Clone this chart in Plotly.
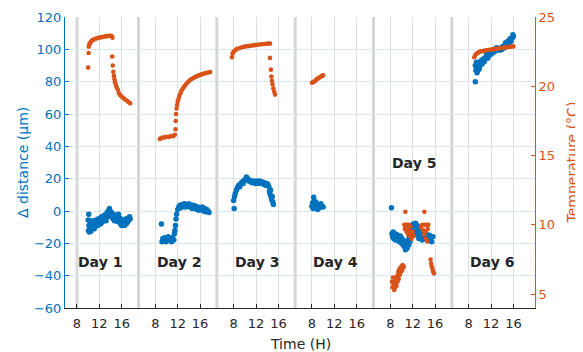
import plotly.graph_objects as go

# ---------------- data (hour of day, value) ----------------
day_labels = ["Day 1", "Day 2", "Day 3", "Day 4", "Day 5", "Day 6"]
tick_hours = [8, 12, 16]

# Day 1
d1_dist_h = [10.0, 10.05, 10.1, 10.15, 10.2, 10.3, 10.35, 10.45, 10.5, 10.6, 10.7, 10.8, 10.9, 11.0, 11.1, 11.2, 11.3, 11.4,
             11.5, 11.6, 11.7, 11.8, 11.9, 12.0, 12.1, 12.2, 12.3, 12.4, 12.5, 12.6, 12.7, 12.8, 12.9, 13.0, 13.1, 13.2,
             13.3, 13.4, 13.5, 13.6, 13.7, 13.8, 13.9, 14.0, 14.1, 14.2, 14.3, 14.4, 14.5, 14.6, 14.7, 14.8, 14.9, 15.0,
             15.1, 15.2, 15.3, 15.4, 15.5, 15.6, 15.7, 15.8, 15.9, 16.0, 16.1, 16.2, 16.3, 16.4, 16.5, 16.6, 16.7, 16.8,
             16.9, 17.0, 17.1, 17.2, 17.3, 17.4, 17.5]
d1_dist = [-5.5, -12, -2, -9, -13, -6, -11, -8, -12.5, -10, -7, -9.5, -6, -8.5, -11, -7, -9, -5.5,
           -7.5, -6.5, -9, -5, -7, -6, -4.5, -8, -5.5, -3.5, -7, -4.5, -6, -3, -5, -2.5, -4, -6,
           -3, -1, -3.5, 0, -2, 1.5, 0, -1.5, -3, -1, -4, -2.5, -5, -3.5, -6, -4.5, -2.5, -5,
           -3.5, -6.5, -4, -2, -5.5, -7, -4.5, -8, -6, -9, -7, -5.5, -8.5, -6.5, -9, -7.5, -5, -8,
           -6, -7, -4.5, -6, -5, -3.5, -5]
d1_temp_h = [10.0, 10.1, 10.1, 10.2, 10.3, 10.45, 10.6, 10.8, 11.0, 11.3, 11.6, 11.9, 12.2, 12.5, 12.8, 13.1, 13.4,
             13.7, 14.0, 14.2, 14.35, 14.3, 14.4, 14.5, 14.6, 14.7, 14.8, 14.95, 15.1, 15.3, 15.5, 15.75, 16.0,
             16.3, 16.6, 16.9, 17.2, 17.5]
d1_temp = [21.35, 22.4, 22.85, 23.0, 23.1, 23.2, 23.27, 23.33, 23.38, 23.43, 23.47, 23.5, 23.53, 23.55, 23.58, 23.6,
           23.62, 23.64, 23.65, 23.63, 23.5, 22.15, 21.5, 21.05, 20.75, 20.5, 20.3, 20.1, 19.93, 19.75, 19.5, 19.35,
           19.25, 19.15, 19.05, 18.97, 18.87, 18.77]

# Day 2
d2_dist_h = [9.1, 9.2, 9.35, 9.5, 9.7, 9.9, 10.1, 10.3, 10.5, 10.7, 10.9, 11.1, 11.3, 11.4, 11.5, 11.6, 11.7, 11.8,
             12.0, 12.2, 12.4, 12.6, 12.8, 13.0, 13.2, 13.4, 13.6, 13.8, 14.0, 14.2, 14.4, 14.6, 14.8, 15.0, 15.2,
             15.4, 15.6, 15.8, 16.0, 16.2, 16.4, 16.6, 16.8, 17.0, 17.2, 17.4, 17.6]
d2_dist = [-8, -19, -17, -18.5, -16.5, -19, -17.5, -16, -18, -17, -19, -16.5, -18, -14, -12, -9, -5, -2,
           1, 2.5, 3.5, 2, 4, 3, 4.5, 2.5, 4, 3, 4.5, 2.5, 3.5, 1.5, 3.5, 2, 3,
           1, 2.5, 0.5, 2, 1, 2.5, 0, 1.5, -0.5, 1, 0, -1]
d2_temp_h = [8.8, 9.0, 9.3, 9.6, 10.0, 10.4, 10.8, 11.2, 11.5, 11.6, 11.65, 11.7, 11.8, 11.9, 12.0, 12.15, 12.3, 12.5,
             12.7, 12.95, 13.2, 13.45, 13.7, 13.95, 14.2, 14.5, 14.8, 15.1, 15.4, 15.7, 16.0, 16.3, 16.6, 16.9,
             17.2, 17.5, 17.8]
d2_temp = [16.2, 16.25, 16.3, 16.3, 16.35, 16.35, 16.4, 16.4, 16.5, 16.9, 17.5, 18.0, 18.4, 18.65, 18.9, 19.1, 19.3,
           19.5, 19.7, 19.85, 20.0, 20.13, 20.25, 20.35, 20.45, 20.53, 20.6, 20.66, 20.72, 20.77, 20.82, 20.86,
           20.9, 20.94, 20.97, 21.0, 21.03]

# Day 3
d3_dist_h = [8.0, 8.1, 8.15, 8.3, 8.5, 8.7, 8.9, 9.1, 9.3, 9.5, 9.7, 9.9, 10.1, 10.3, 10.5, 10.7, 10.9, 11.1, 11.3,
             11.5, 11.7, 11.9, 12.1, 12.3, 12.5, 12.7, 12.9, 13.1, 13.3, 13.5, 13.7, 13.9, 14.1, 14.3, 14.4, 14.5,
             14.6, 14.7, 14.8, 14.9, 15.0, 15.1]
d3_dist = [6.5, 1.5, 9, 11, 13, 14.5, 16, 15, 17, 18, 17, 19, 19.5, 21, 20, 18.5, 19, 18, 17.5,
           18.5, 18, 17, 18.5, 18, 17, 18.5, 17.5, 18, 16.5, 17.5, 16, 17, 16.5, 15, 12, 10.5,
           13, 8.5, 7, 9, 5.5, 4]
d3_temp_h = [7.7, 7.8, 8.0, 8.3, 8.6, 9.0, 9.4, 9.8, 10.2, 10.6, 11.0, 11.4, 11.8, 12.2, 12.6, 13.0, 13.4, 13.8,
             14.2, 14.5, 14.5, 14.65, 14.75, 14.85, 14.95, 15.1, 15.25, 15.4]
d3_temp = [22.1, 22.35, 22.5, 22.6, 22.7, 22.75, 22.8, 22.85, 22.88, 22.9, 22.92, 22.95, 22.97, 23.0, 23.02, 23.03,
           23.05, 23.07, 23.08, 23.08, 22.05, 21.2, 20.7, 20.4, 20.15, 19.85, 19.6, 19.4]

# Day 4
d4_dist_h = [8.0, 8.1, 8.2, 8.3, 8.35, 8.4, 8.5, 8.6, 8.7, 8.9, 9.0, 9.2, 9.4, 9.6, 9.8, 10.0]
d4_dist = [3, 5, 1.5, 8.5, 6, 3.5, 4, 2, 5.5, 3, 1, 4, 2, 4.5, 3, 2.5]
d4_temp_h = [8.0, 8.2, 8.4, 8.6, 8.8, 9.0, 9.2, 9.4, 9.6, 9.8, 10.0]
d4_temp = [20.25, 20.3, 20.35, 20.4, 20.5, 20.55, 20.6, 20.65, 20.7, 20.75, 20.8]

# Day 5
d5_dist_h = [8.2, 8.3, 8.4, 8.5, 8.6, 8.7, 8.8, 8.9, 9.0, 9.1, 9.2, 9.3, 9.4, 9.5, 9.6, 9.7, 9.8, 9.9, 10.0,
             10.1, 10.2, 10.3, 10.4, 10.5, 10.6, 10.7, 10.8, 10.9, 11.0, 11.1, 11.2, 11.3, 11.4, 11.5, 11.6, 11.7,
             11.8, 11.9, 12.0, 12.1, 12.2, 12.3, 12.4, 12.5, 12.6, 12.7, 12.8, 12.9, 13.0, 13.1, 13.2, 13.3, 13.4,
             13.5, 13.6, 13.7, 13.8, 13.9, 14.0, 14.2, 14.4, 14.6, 14.8, 15.0, 15.2, 15.4, 15.6]
d5_dist = [2, -14, -16, -13, -17, -15, -14, -18, -16, -14.5, -17, -15, -18, -16, -19, -17, -15.5, -18, -20,
           -17, -19, -21, -18.5, -22, -20, -24, -21, -19, -23, -20, -18, -21, -16, -19, -14, -12,
           -15, -10, -13, -8, -11, -9, -12, -7.5, -10, -13, -9, -15, -11, -17, -14, -12, -16,
           -13, -15, -18, -14, -16, -13, -17, -14, -16, -18, -15, -17, -19, -16]
d5_temp_h = [8.3, 8.4, 8.5, 8.6, 8.7, 8.8, 8.9, 9.0, 9.1, 9.2, 9.3, 9.4, 9.5, 9.6, 9.7, 9.8, 9.9, 10.0, 10.1, 10.2,
             10.3, 10.4, 10.7, 10.5, 10.6, 10.8, 10.9, 11.0, 11.1, 11.2, 11.3, 11.4, 11.5, 11.6, 11.7, 11.8, 12.0,
             12.2, 13.5, 13.7, 13.9, 14.1, 14.0, 14.2, 14.3, 14.4, 14.5, 14.6, 14.7, 14.8, 15.2, 15.3, 15.4, 15.5,
             15.6, 15.7, 15.8]
d5_temp = [5.9, 5.5, 6.2, 5.7, 5.3, 5.8, 5.5, 6.0, 5.6, 6.3, 5.9, 6.6, 6.1, 6.8, 6.4, 6.9, 6.6, 7.0, 6.7, 7.1,
           6.9, 7.0, 10.95, 10.0, 9.7, 10.0, 9.5, 10.0, 9.8, 9.3, 10.0, 9.6, 9.2, 9.9, 9.4, 9.0, 9.5,
           9.2, 9.8, 10.0, 9.6, 10.95, 9.3, 10.0, 9.5, 9.0, 10.0, 8.8, 9.7, 10.0, 7.5, 7.2, 7.0, 6.9,
           6.7, 6.6, 6.5]

# Day 6
d6_dist_h = [9.2, 9.2, 9.3, 9.4, 9.5, 9.6, 9.7, 9.8, 9.9, 10.0, 10.2, 10.4, 10.6, 10.8, 11.0, 11.2, 11.4, 11.6, 11.8,
             12.0, 12.2, 12.4, 12.6, 12.8, 13.0, 13.2, 13.4, 13.6, 13.8, 14.0, 14.2, 14.4, 14.6, 14.8, 15.0, 15.2,
             15.4, 15.6, 15.8, 15.9, 16.0]
d6_dist = [80, 90, 87, 92, 85.5, 89, 87, 91, 88, 90, 93, 91, 94, 92.5, 95, 97, 94.5, 96, 98,
           97, 99, 98, 100, 99, 101, 100, 100.5, 99.5, 101, 100, 102, 101, 104, 103, 105, 104,
           106.5, 105, 107, 109, 108]
d6_temp_h = [9.0, 9.2, 9.4, 9.6, 9.8, 10.0, 10.3, 10.6, 10.9, 11.2, 11.5, 11.8, 12.1, 12.4, 12.7, 13.0, 13.3, 13.6,
             13.9, 14.2, 14.5, 14.8, 15.1, 15.4, 15.7, 16.0]
d6_temp = [22.1, 22.25, 22.35, 22.4, 22.45, 22.5, 22.52, 22.55, 22.58, 22.6, 22.62, 22.64, 22.66, 22.68, 22.7, 22.71,
           22.73, 22.75, 22.76, 22.78, 22.8, 22.82, 22.84, 22.85, 22.87, 22.88]

# ---------------- layout constants ----------------
PANEL_HOURS = 14          # width of each day panel on the time axis
PANEL_START = 5           # hour at left edge of a panel
BLUE = "#0072BD"
ORANGE = "#D95319"
DARK = "#262626"
FONT = "DejaVu Sans"

dist_h = [d1_dist_h, d2_dist_h, d3_dist_h, d4_dist_h, d5_dist_h, d6_dist_h]
dist_v = [d1_dist, d2_dist, d3_dist, d4_dist, d5_dist, d6_dist]
temp_h = [d1_temp_h, d2_temp_h, d3_temp_h, d4_temp_h, d5_temp_h, d6_temp_h]
temp_v = [d1_temp, d2_temp, d3_temp, d4_temp, d5_temp, d6_temp]

def to_x(day_idx, hours):
    return [h + PANEL_HOURS * day_idx for h in hours]

bx, by, ox, oy = [], [], [], []
for i in range(len(day_labels)):
    bx += to_x(i, dist_h[i]); by += dist_v[i]
    ox += to_x(i, temp_h[i]); oy += temp_v[i]

fig = go.Figure()
fig.add_trace(go.Scatter(x=bx, y=by, mode="markers", yaxis="y",
                         marker=dict(color=BLUE, size=5.5, line=dict(width=0)),
                         name="Δ distance", showlegend=False))
fig.add_trace(go.Scatter(x=ox, y=oy, mode="markers", yaxis="y2",
                         marker=dict(color=ORANGE, size=4.6, line=dict(width=0)),
                         name="Temperature", showlegend=False))

tickvals, ticktext = [], []
for i in range(len(day_labels)):
    for t in tick_hours:
        tickvals.append(t + PANEL_HOURS * i)
        ticktext.append(str(t))

n = len(day_labels)
x0 = 5.86
x1 = x0 + PANEL_HOURS * n

shapes = []
sep_x = [PANEL_START + PANEL_HOURS * (i + 1) for i in range(n - 1)] + [tick_hours[0]]
for sx in sep_x:
    shapes.append(dict(type="line", xref="x", yref="paper", x0=sx, x1=sx, y0=0, y1=1,
                       line=dict(color="#D6D6D6", width=3), layer="between"))

label_y = [-31.4, -31.4, -31.4, -31.4, 29.4, -31.4]
annotations = []
for i, lab in enumerate(day_labels):
    annotations.append(dict(x=12.2 + PANEL_HOURS * i, y=label_y[i], xref="x", yref="y",
                            text="<b>" + lab + "</b>", showarrow=False, xanchor="center",
                            font=dict(family=FONT, size=14, color=DARK)))
annotations.append(dict(x=-0.0904, y=0.5, xref="paper", yref="paper", text="Δ distance (μm)",
                        textangle=-90, showarrow=False, xanchor="center", yanchor="middle",
                        font=dict(family=FONT, size=14, color=BLUE)))
annotations.append(dict(x=1.0787, y=0.5, xref="paper", yref="paper", text="Temperature (°C)",
                        textangle=-90, showarrow=False, xanchor="center", yanchor="middle",
                        font=dict(family=FONT, size=14, color=ORANGE)))
annotations.append(dict(x=0.5, y=-0.124, xref="paper", yref="paper", text="Time (H)",
                        xanchor="center", yanchor="middle",
                        showarrow=False, font=dict(family=FONT, size=14, color=DARK)))

# the page body adds an 8 px offset, so the figure is 8 px smaller and margins shifted
fig.update_layout(
    width=575, height=344,
    margin=dict(l=57, r=48, t=9, b=44, autoexpand=False),
    paper_bgcolor="white", plot_bgcolor="white",
    font=dict(family=FONT, size=13, color=DARK),
    xaxis=dict(range=[x0, x1], tickvals=tickvals, ticktext=ticktext, ticks="inside", ticklen=4,
               tickcolor=DARK, showline=True, linecolor=DARK, linewidth=1, mirror=False,
               showgrid=True, gridcolor="#DEDEDE", gridwidth=1, zeroline=False, automargin=False,
               tickfont=dict(family=FONT, size=13, color=DARK), ticklabelstandoff=3),
    yaxis=dict(range=[-60, 120], dtick=20, tick0=0, ticks="inside", ticklen=4, tickcolor=BLUE,
               showline=True, linecolor=BLUE, linewidth=1, showgrid=True, gridcolor="#D6E6F3",
               zeroline=False, automargin=False, tickfont=dict(family=FONT, size=13, color=BLUE)),
    yaxis2=dict(range=[4, 25], tickvals=[5, 10, 15, 20, 25], overlaying="y", side="right",
                ticks="inside", ticklen=4, tickcolor=ORANGE, showline=True, linecolor=ORANGE,
                linewidth=1, showgrid=False, zeroline=False, automargin=False,
                tickfont=dict(family=FONT, size=13, color=ORANGE)),
    shapes=shapes, annotations=annotations,
)

fig.write_html("out.html")
